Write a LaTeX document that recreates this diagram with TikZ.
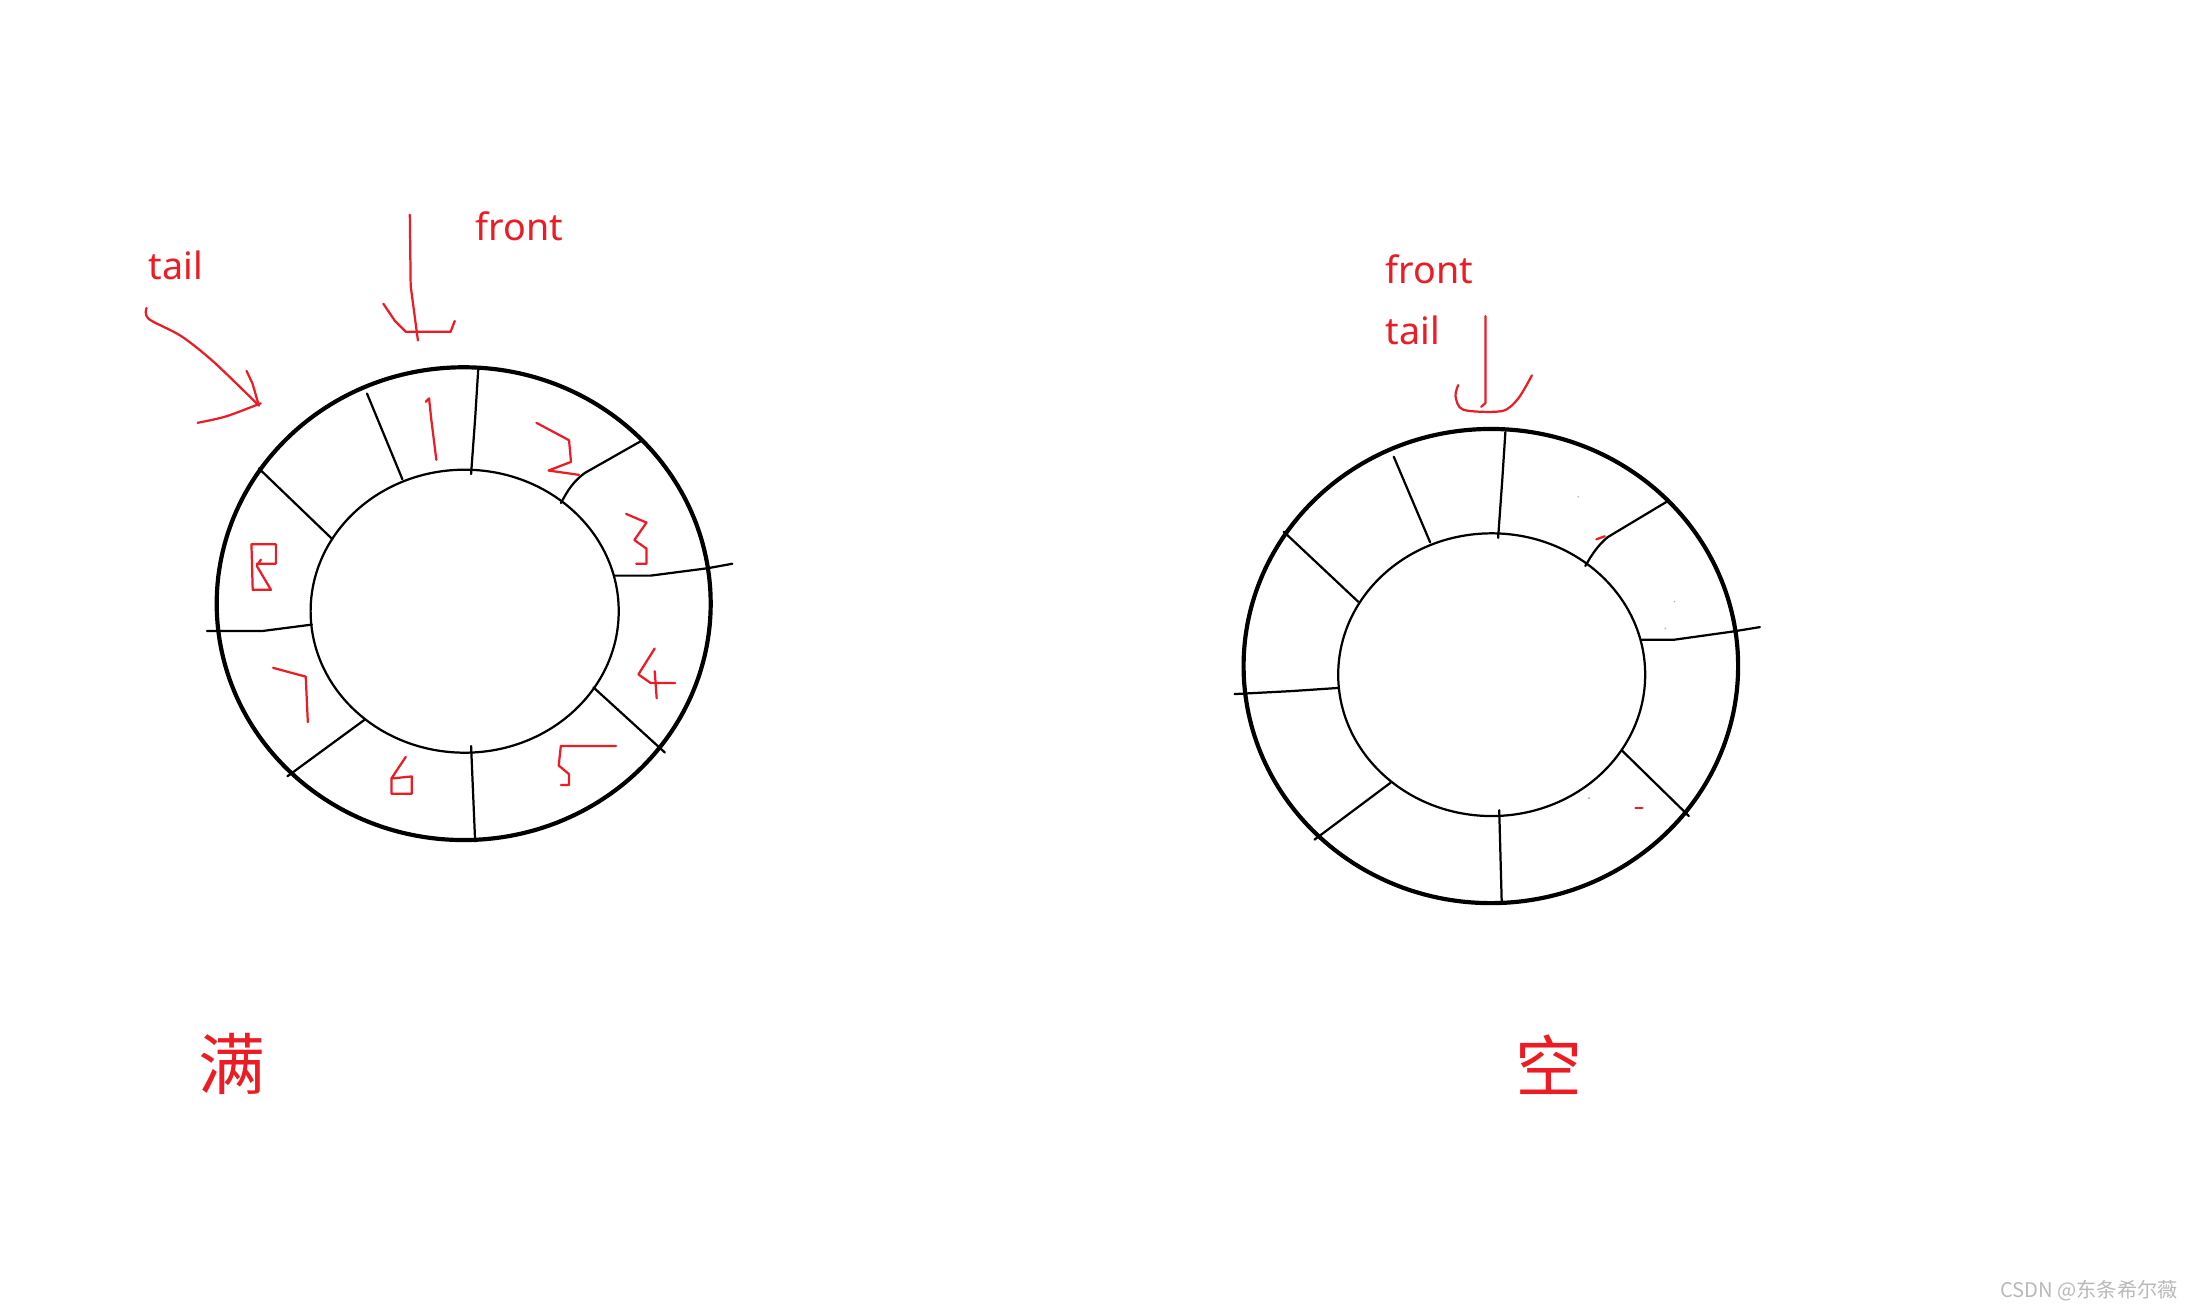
\documentclass[tikz,border=0pt]{standalone}
\usepackage{fontspec}
\setmainfont{Noto Sans}
\newfontfamily\cjk{Noto Sans CJK SC}
\definecolor{pen}{RGB}{237,28,36}
\definecolor{wm}{RGB}{185,185,185}
\begin{document}
\begin{tikzpicture}[x=1pt,y=-1pt,
  ring/.style={line width=3pt},
  hole/.style={line width=1.6pt},
  spoke/.style={line width=1.6pt, line cap=round, line join=round},
  ink/.style={draw=pen, line width=1.6pt, line cap=round, line join=round},
  lbl/.style={text=pen, font=\fontsize{27}{32}\selectfont, inner sep=0pt, anchor=base west},
  big/.style={text=pen, font=\cjk\fontsize{48}{56}\selectfont, inner sep=0pt},
  wmtext/.style={text=wm, font=\cjk\fontsize{14.5}{17}\selectfont, inner sep=0pt}]
\useasboundingbox (0,0) rectangle (1568,940);

% ---------------- left ring (full) ----------------
\draw[ring] (332.3,432.6) ellipse [x radius=177, y radius=169.4];
\draw[hole] (333,438) ellipse [x radius=110.4, y radius=101.4];
\draw[spoke] (342.8,263.3) -- (340.5,300) -- (337.6,339.7);
\draw[spoke] (263,282) -- (288.4,343.5);
\draw[spoke] (185.5,335.7) -- (238.1,386.3);
\draw[spoke] (148.3,452.2) -- (188,452.2) -- (223.5,447.6);
\draw[spoke] (206,556.3) -- (261,516);
\draw[spoke] (337.6,534.6) -- (340.5,603);
\draw[spoke] (425.3,492.6) -- (476.5,539.3);
\draw[spoke] (440,412.5) -- (466.3,412.5) -- (507.2,407.2) -- (524.8,404);
\draw[spoke] (402,360.5) .. controls (407,351) and (411,345) .. (419,339) -- (460.4,315.5);

% digits
\draw[ink] (305,288) -- (307.5,285.5) -- (309,300) -- (312.7,329.5);
\draw[ink] (384.4,303) -- (407.8,315.5) -- (409.2,331) -- (393.1,337.2) -- (415,340.3);
\draw[ink] (448.7,368.3) -- (463.3,374.5) -- (454.6,387) -- (463.3,393.2) -- (463.3,404) -- (456,404);
\draw[ink] (469.2,464.7) -- (457.5,483.3) -- (466.3,489.5) -- (483.8,489.5);
\draw[ink] (469.2,481) -- (470.6,500.4);
\draw[ink] (441.4,534.6) -- (401.9,534.6) -- (400.4,548.6) -- (407.8,554.8) -- (407.8,562.6) -- (401.9,562.6);
\draw[ink] (290.8,542.4) -- (280.5,557.9) -- (280.5,568.8) -- (295.1,568.8) -- (295.1,556.4) -- (280.5,557.9);
\draw[ink] (195.7,478.6) -- (219.1,484.9) -- (220.6,517.5);
\draw[ink] (184,404) -- (197.7,404) -- (197.7,390.1) -- (180.2,390.1) -- (181.1,422.7) -- (194.2,422.7) -- (184,405.5) -- (187,401);

% pointers
\draw[ink] plot[smooth] coordinates {(105,220.7) (106.5,228.5) (129.9,240.9) (153.3,259.5) (185.5,290.6)};
\draw[ink] (176.7,265.8) -- (181,275) -- (185.5,290.6);
\draw[ink] plot[smooth] coordinates {(141.6,303) (162,298.4) (186.9,289)};
\draw[ink] (293.7,153.9) -- (294.3,205) -- (299.5,244);
\draw[ink] (274.7,217.6) -- (283,230) -- (290.8,237.8) -- (322.9,237.8) -- (325.9,230);
\node[lbl] (tailL) at (106.5,200.5) {tail};
\node[lbl] (frontL) at (340.5,172.5) {front};
\node[big] (full) at (166.5,762.5) {满};

% ---------------- right ring (empty) ----------------
\draw[ring] (1068.4,477.3) ellipse [x radius=177.2, y radius=169.9];
\draw[hole] (1069,483.5) ellipse [x radius=110, y radius=101.3];
\draw[spoke] (1078.8,309.7) -- (1076.5,345) -- (1073.6,385.5);
\draw[spoke] (998.8,327.3) -- (1024.9,388.7);
\draw[spoke] (919.9,381) -- (973.3,431.2);
\draw[spoke] (884.7,497.4) -- (926.4,495.2) -- (959,493);
\draw[spoke] (942,601.7) -- (996.7,560.8);
\draw[spoke] (1074.4,580.6) -- (1076.2,647.2);
\draw[spoke] (1162.2,537.7) -- (1210.3,584.8);
\draw[spoke] (1176.5,458.4) -- (1200,458.4) -- (1241.6,452.6) -- (1261.2,449.4);
\draw[spoke] (1136.1,405.6) .. controls (1141,397) and (1145,391) .. (1152,385) -- (1196,358.6);
\draw[ink] (1144,386.5) -- (1150,384.3);
\draw[ink] (1172,579) -- (1177,579);
\fill[wm] (1131,356) circle (0.7) (1200,431.2) circle (0.7) (1193.4,450.4) circle (0.7) (1138.7,572) circle (0.9);

\draw[ink] (1064.5,226.5) -- (1064.5,288.9) -- (1061.5,291.5);
\draw[ink] plot[smooth] coordinates {(1045,276) (1043.1,284) (1048.8,293.7) (1076.2,294.6) (1087.9,285.7) (1097.8,269)};
\node[lbl] (frontR) at (992.8,203.5) {front};
\node[lbl] (tailR) at (992.8,247) {tail};
\node[big] (empty) at (1110,763) {空};

\node[wmtext] (wmark) at (1497,925) {CSDN @东条希尔薇};
\end{tikzpicture}
\end{document}
